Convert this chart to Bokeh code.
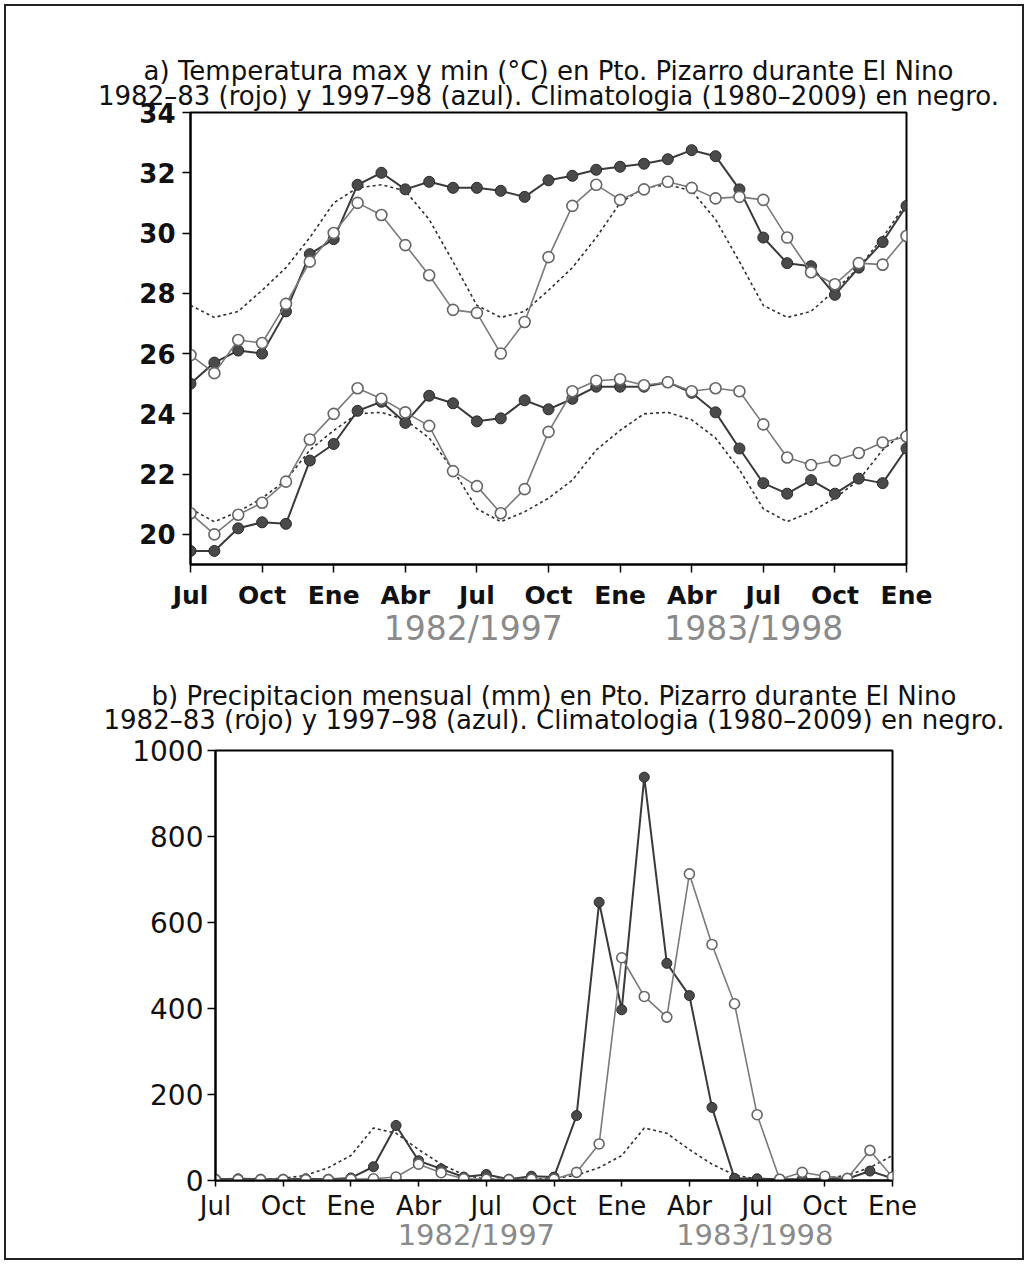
from bokeh.plotting import figure
from bokeh.models import Range1d, FixedTicker, LinearAxis, Title
from bokeh.embed import file_html
from bokeh.resources import INLINE

# month index 0 = Jul ... 30 = Ene (31 monthly points)
months = list(range(31))
tick_pos = [0, 3, 6, 9, 12, 15, 18, 21, 24, 27, 30]
tick_lab = ["Jul", "Oct", "Ene", "Abr", "Jul", "Oct", "Ene", "Abr", "Jul", "Oct", "Ene"]
year_labels = ["1982/1997", "1983/1998"]

# Temperature max (°C)
tmax_8283 = [25.0, 25.7, 26.1, 26.0, 27.4, 29.3, 29.8, 31.6, 32.0, 31.45, 31.7, 31.5, 31.5, 31.4, 31.2,
             31.75, 31.9, 32.1, 32.2, 32.3, 32.45, 32.75, 32.55, 31.45, 29.85, 29.0, 28.9, 27.95, 28.85, 29.7, 30.9]
tmax_9798 = [25.95, 25.35, 26.45, 26.35, 27.65, 29.05, 30.0, 31.0, 30.6, 29.6, 28.6, 27.45, 27.35, 26.0, 27.05,
             29.2, 30.9, 31.6, 31.1, 31.45, 31.7, 31.5, 31.15, 31.2, 31.1, 29.85, 28.7, 28.3, 29.0, 28.95, 29.9]
tmax_clim = [27.6, 27.2, 27.4, 28.1, 28.85, 29.85, 31.0, 31.5, 31.6, 31.4, 30.45, 29.05,
             27.6, 27.2, 27.4, 28.1, 28.85, 29.85, 31.0, 31.5, 31.6, 31.4, 30.45, 29.05,
             27.6, 27.2, 27.4, 28.1, 28.85, 29.85, 31.0]
# Temperature min (°C)
tmin_8283 = [19.45, 19.45, 20.2, 20.4, 20.35, 22.45, 23.0, 24.1, 24.4, 23.7, 24.6, 24.35, 23.75, 23.85, 24.45,
             24.15, 24.5, 24.9, 24.9, 24.9, 25.05, 24.7, 24.05, 22.85, 21.7, 21.35, 21.8, 21.35, 21.85, 21.7, 22.85]
tmin_9798 = [20.7, 20.0, 20.65, 21.05, 21.75, 23.15, 24.0, 24.85, 24.5, 24.05, 23.6, 22.1, 21.6, 20.7, 21.5,
             23.4, 24.75, 25.1, 25.15, 24.95, 25.05, 24.75, 24.85, 24.75, 23.65, 22.55, 22.3, 22.45, 22.7, 23.05, 23.25]
tmin_clim = [20.85, 20.42, 20.75, 21.2, 21.8, 22.8, 23.45, 24.0, 24.05, 23.8, 23.2, 22.15,
             20.85, 20.42, 20.75, 21.2, 21.8, 22.8, 23.45, 24.0, 24.05, 23.8, 23.2, 22.15,
             20.85, 20.42, 20.75, 21.2, 21.8, 22.8, 23.45]
# Monthly precipitation (mm)
pp_8283 = [3, 4, 3, 3, 4, 3, 6, 32, 128, 46, 27, 8, 14, 3, 10,
           8, 151, 647, 397, 938, 505, 430, 170, 5, 4, 3, 3, 4, 4, 22, 5]
pp_9798 = [2, 2, 2, 2, 2, 2, 3, 4, 8, 38, 18, 4, 3, 2, 3,
           3, 19, 85, 518, 428, 380, 713, 549, 411, 153, 3, 19, 10, 5, 70, 8]
pp_clim = [3, 2, 3, 5, 12, 30, 58, 122, 110, 72, 38, 13,
           3, 2, 3, 5, 12, 30, 58, 122, 110, 72, 38, 13,
           3, 2, 3, 5, 12, 30, 58]

FONT = "DejaVu Sans"
DARK_LINE = "#3a3a3a"
DARK_FILL = "#4a4a4a"
OPEN_LINE = "#7a7a7a"
CLIM = "#303030"
YEAR_COL = "#8a8a8a"
TXT = "#111111"


def style(p, xlab_px, ylab_px, bold, xtick, xstand, ystand):
    p.xgrid.visible = False
    p.ygrid.visible = False
    p.background_fill_color = "white"
    p.border_fill_color = "white"
    p.outline_line_color = "black"
    p.outline_line_width = 2
    p.outline_line_alpha = 1
    p.xaxis.ticker = FixedTicker(ticks=tick_pos)
    p.xaxis.major_label_overrides = {t: l for t, l in zip(tick_pos, tick_lab)}
    for ax, sz, tk, st in ((p.xaxis, xlab_px, xtick, xstand), (p.yaxis, ylab_px, 8, ystand)):
        ax.axis_line_color = "black"
        ax.axis_line_width = 2
        ax.major_tick_line_color = "black"
        ax.major_tick_line_width = 1.5
        ax.major_tick_out = tk
        ax.major_tick_in = 0
        ax.minor_tick_line_color = None
        ax.major_label_text_font = FONT
        ax.major_label_text_font_size = sz
        ax.major_label_text_font_style = "bold" if bold else "normal"
        ax.major_label_text_color = TXT
        ax.major_label_standoff = st


def year_axis(p, pos, px, st):
    ax = LinearAxis(ticker=FixedTicker(ticks=pos),
                    major_label_overrides={x: t for x, t in zip(pos, year_labels)})
    ax.axis_line_color = None
    ax.major_tick_line_color = None
    ax.minor_tick_line_color = None
    ax.major_tick_out = 0
    ax.major_tick_in = 0
    ax.major_label_standoff = st
    ax.major_label_text_font = FONT
    ax.major_label_text_font_size = px
    ax.major_label_text_color = YEAR_COL
    p.add_layout(ax, "below")


def titles(p, l1, l2, px, st):
    p.add_layout(Title(text=l1 + "\n" + l2, align="center", text_align="center",
                       text_font=FONT, text_font_size=px, text_line_height=0.82,
                       text_font_style="normal", text_color=TXT, standoff=st), "above")


def series(p, y8283, y9798, yclim, msize):
    p.line(months, yclim, line_color=CLIM, line_width=1.6, line_dash="3 3")
    p.line(months, y8283, line_color=DARK_LINE, line_width=2)
    p.scatter(months, y8283, size=msize, marker="circle", fill_color=DARK_FILL, line_color="#2a2a2a", line_width=1)
    p.line(months, y9798, line_color=OPEN_LINE, line_width=1.6)
    p.scatter(months, y9798, size=msize, marker="circle", fill_color="white", line_color="#666666", line_width=1.6)


# ---------- panel a ----------
p1 = figure(width=1020, height=650, x_range=Range1d(0, 30), y_range=Range1d(19, 34),
            output_backend="svg", toolbar_location=None,
            min_border_left=184, min_border_right=120, min_border_top=106, min_border_bottom=92)
style(p1, "25px", "26px", True, 8, 8, 7)
p1.yaxis.ticker = FixedTicker(ticks=[20, 22, 24, 26, 28, 30, 32, 34])
series(p1, tmax_8283, tmax_9798, tmax_clim, 11)
series(p1, tmin_8283, tmin_9798, tmin_clim, 11)
year_axis(p1, [11.85, 23.6], "33px", -4)
titles(p1, "a) Temperatura max y min (°C) en Pto. Pizarro durante El Nino",
       "1982–83 (rojo) y 1997–98 (azul). Climatologia (1980–2009) en negro.", "26px", 3)
p1.styles = {"border-left": "2px solid #222222", "border-right": "2px solid #222222",
             "border-top": "2px solid #222222", "margin-left": "4px", "margin-top": "4px"}

# ---------- panel b ----------
p2 = figure(width=1020, height=606, x_range=Range1d(0, 30), y_range=Range1d(0, 1000),
            output_backend="svg", toolbar_location=None,
            min_border_left=209, min_border_right=134, min_border_top=96, min_border_bottom=80)
style(p2, "26px", "28px", False, 6, 4, 4)
p2.yaxis.ticker = FixedTicker(ticks=[0, 200, 400, 600, 800, 1000])
series(p2, pp_8283, pp_9798, pp_clim, 10)
year_axis(p2, [11.56, 23.9], "29px", -6)
titles(p2, "b) Precipitacion mensual (mm) en Pto. Pizarro durante El Nino",
       "1982–83 (rojo) y 1997–98 (azul). Climatologia (1980–2009) en negro.", "26px", 30)
p2.styles = {"border-left": "2px solid #222222", "border-right": "2px solid #222222",
             "border-bottom": "2px solid #222222", "margin-left": "4px"}

open("out.html", "w").write(file_html([p1, p2], INLINE))
